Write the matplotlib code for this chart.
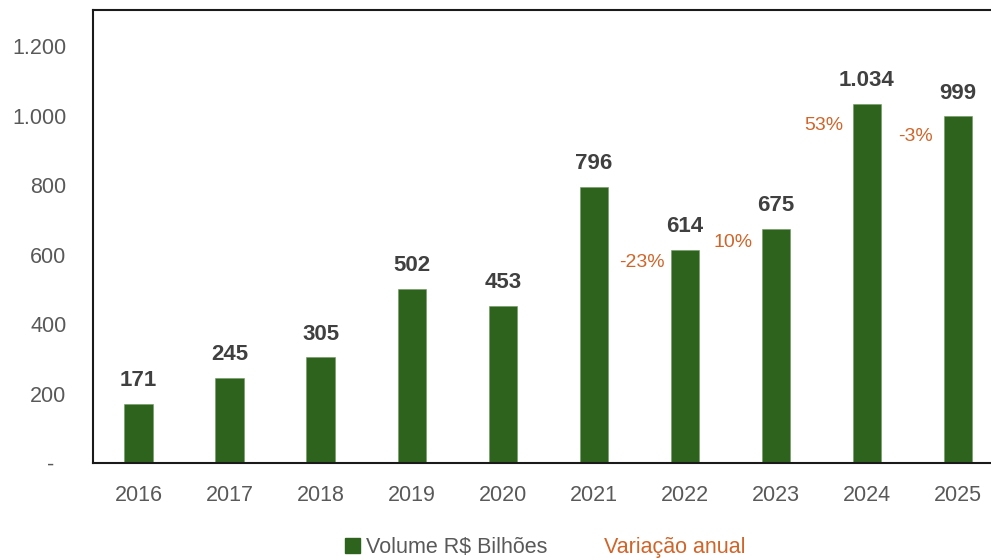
import matplotlib.pyplot as plt
from matplotlib.patches import Patch
from matplotlib.lines import Line2D
from matplotlib.ticker import FuncFormatter

# Volume R$ bilhões por ano
years = ["2016", "2017", "2018", "2019", "2020", "2021", "2022", "2023", "2024", "2025"]
volume = [171, 245, 305, 502, 453, 796, 614, 675, 1034, 999]
# variação anual exibida só nos últimos anos
var_years = ["2022", "2023", "2024", "2025"]
var_labels = ["-23%", "10%", "53%", "-3%"]

GREEN = "#2E631E"
ORANGE = "#D0652A"


def fmt_thousands(v, pos):
    if v == 0:
        return "-  "
    return f"{int(v):,}".replace(",", ".")


plt.rcParams["font.family"] = ["Liberation Sans", "DejaVu Sans"]

fig = plt.figure(figsize=(9.91, 5.6), dpi=100)
ax = fig.add_axes([0.0938, 0.1732, 0.9188, 0.8088])

x = list(range(len(years)))
bars = ax.bar(x, volume, width=0.31, color=GREEN, edgecolor="#6f9a5f", linewidth=0.4, zorder=2)

for xi, v in zip(x, volume):
    ax.annotate(fmt_thousands(v, None), (xi, v), xytext=(0, 9), textcoords="offset points",
                ha="center", va="bottom", fontsize=16, fontweight="bold", color="#404040")

for yr, lab in zip(var_years, var_labels):
    i = years.index(yr)
    ax.text(i - 0.47, volume[i] * 0.94, lab, ha="center", va="center",
            fontsize=14, color=ORANGE)

ax.set_xlim(-0.5, 9.5)
ax.set_ylim(0, 1304)
ax.set_yticks([0, 200, 400, 600, 800, 1000, 1200])
ax.yaxis.set_major_formatter(FuncFormatter(fmt_thousands))
ax.set_xticks(x)
ax.set_xticklabels(years)
ax.tick_params(axis="both", length=0, labelsize=15.5, labelcolor="#595959")
ax.tick_params(axis="x", pad=16)
ax.tick_params(axis="y", pad=19)

for side in ["left", "top", "bottom"]:
    ax.spines[side].set_color("#1a1a1a")
    ax.spines[side].set_linewidth(1.5)
ax.spines["right"].set_visible(False)

handles = [Patch(facecolor=GREEN, edgecolor=GREEN),
           Line2D([], [], linestyle="none")]
leg = fig.legend(handles, ["Volume R$ Bilhões", "Variação anual"], loc="center",
                 bbox_to_anchor=(0.550, 0.022), ncol=2, frameon=False, fontsize=15.5,
                 handlelength=0.7, handleheight=0.7, handletextpad=0.3, columnspacing=1.6)
leg.get_texts()[0].set_color("#595959")
leg.get_texts()[1].set_color(ORANGE)

fig.savefig("out.png", dpi=100)
